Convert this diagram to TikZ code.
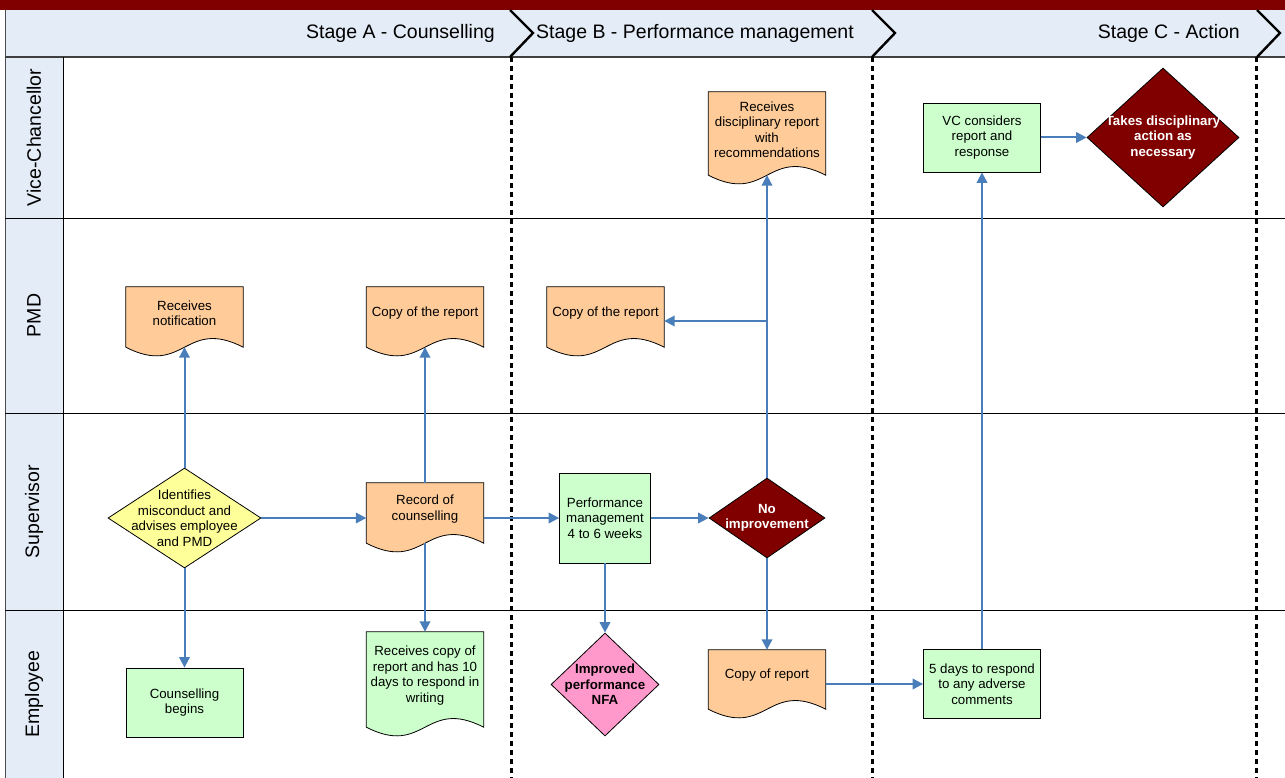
\documentclass[tikz,border=0pt]{standalone}
\usepackage{fontspec}
\setmainfont{Liberation Sans}
\usetikzlibrary{arrows.meta,shapes.geometric,backgrounds,calc}
\definecolor{maroon}{HTML}{800000}
\definecolor{band}{HTML}{E4ECF7}
\definecolor{peach}{HTML}{FFCC99}
\definecolor{mint}{HTML}{CCFFCC}
\definecolor{lemon}{HTML}{FFFF99}
\definecolor{rose}{HTML}{FF99CC}
\definecolor{flow}{HTML}{4A7EBB}
\newcommand\docshape[2]{%
 \coordinate (#1 foot) at ($(#1.south)+(0,8)$);
 \draw[line width=0.8pt,fill=#2] (#1.north west)--($(#1.south west)+(0,8)$) .. controls ($(#1 foot)+(0,30)$) and ($(#1 foot)+(0,-30)$) .. ($(#1.south east)+(0,8)$)--(#1.north east)--cycle;}

\begin{document}
\begin{tikzpicture}[x=1pt,y=-1pt,font=\fontsize{13.3}{15.5}\selectfont,doc/.style={minimum width=117pt,inner sep=1pt,align=center},box/.style={draw,line width=0.8pt,fill=mint,minimum width=117pt,minimum height=69pt,inner sep=1pt,align=center},dia/.style={diamond,draw,line width=0.8pt,inner sep=0pt},txt/.style={align=center},boldtxt/.style={align=center,font=\fontsize{13.3}{15.5}\selectfont\bfseries},arrow/.style={-{Triangle[length=10.5pt,width=10.5pt]},flow,line width=2pt},lane/.style={rotate=90,inner sep=0pt,font=\fontsize{19.5}{23}\selectfont},stage/.style={inner sep=0pt,font=\fontsize{19.5}{23}\selectfont},sep/.style={line width=3pt,dash pattern=on 5pt off 4pt},chev/.style={line width=2.4pt}]
 \useasboundingbox (0,0) rectangle (1285,778);
 \begin{scope}[on background layer]
  \fill[white] (0,0) rectangle (1285,778);
 \end{scope}
 \fill[maroon] (0,0) rectangle (1285,10);
 \fill[band] (5,10) rectangle (1285,57);
 \fill[band] (5,57) rectangle (63,778);
 \draw[gray!60!black] (5,10)--(5,778);
 \draw[line width=1.2pt,black!75] (5,57)--(1285,57);
 \draw (63,57)--(63,778);
 \draw (5,218)--(1285,218);
 \draw (5,413)--(1285,413);
 \draw (5,610)--(1285,610);
 \draw[sep] (511,57)--(511,778);
 \draw[sep] (872,57)--(872,778);
 \draw[sep] (1256,57)--(1256,778);
 \draw[chev] (510,10)--(533,33)--(510,57);
 \draw[chev] (872,10)--(895,33)--(872,57);
 \draw[chev] (1257,10)--(1280,33)--(1257,57);
 \node[stage,anchor=east] (stageA) at (495,33) {Stage A - Counselling};
 \node[stage,anchor=west] (stageB) at (536,33) {Stage B - Performance management};
 \node[stage,anchor=east] (stageC) at (1240,33) {Stage C - Action};
 \node[lane] (laneVC) at (34,137.5) {Vice-Chancellor};
 \node[lane] (lanePMD) at (34,315.5) {PMD};
 \node[lane] (laneSup) at (34,511.5) {Supervisor};
 \node[lane] (laneEmp) at (34,694) {Employee};
 \node[doc,minimum height=52pt] (notif) at (184.5,313) {Receives\\notification};
 \node[doc,minimum height=52pt] (copyA) at (425,313) {Copy of the report};
 \node[doc,minimum height=52pt] (copyB) at (605.5,313) {Copy of the report};
 \node[doc,minimum height=75pt] (discip) at (767,129.5) {Receives\\disciplinary report\\with\\recommendations};
 \node[doc,minimum height=52pt] (record) at (425,509) {Record of\\counselling};
 \node[doc,minimum height=87pt] (recv) at (425,675.5) {Receives copy of\\report and has 10\\days to respond in\\writing};
 \node[doc,minimum height=51pt] (copyR) at (767,675.5) {Copy of report};
 \node[box] (couns) at (184.5,702.5) {Counselling\\begins};
 \node[box,minimum width=91pt,minimum height=90pt] (perf) at (605,518) {Performance\\management\\4 to 6 weeks};
 \node[box] (days) at (982,684) {5 days to respond\\to any adverse\\comments};
 \node[box] (vcc) at (982,137.5) {VC considers\\report and\\response};
 \node[dia,fill=lemon,minimum width=153pt,minimum height=100pt,label={[txt]center:Identifies\\misconduct and\\advises employee\\and PMD}] (ident) at (184.5,518) {};
 \node[dia,fill=maroon,minimum width=116pt,minimum height=80pt,label={[boldtxt,text=white]center:No\\improvement}] (noimp) at (767,518) {};
 \node[dia,fill=rose,minimum width=108pt,minimum height=103pt,label={[boldtxt]center:Improved\\performance\\NFA}] (impr) at (605,684.5) {};
 \node[dia,fill=maroon,minimum width=152pt,minimum height=139pt,label={[boldtxt,text=white]center:Takes disciplinary\\action as\\necessary}] (takes) at (1163,137.5) {};
 \begin{scope}[on background layer]
  \docshape{notif}{peach}
  \docshape{copyA}{peach}
  \docshape{copyB}{peach}
  \docshape{discip}{peach}
  \docshape{record}{peach}
  \docshape{recv}{mint}
  \docshape{copyR}{peach}
 \end{scope}
 \draw[arrow] (ident)--(notif foot);
 \draw[arrow] (ident)--(couns);
 \draw[arrow] (ident)--(ident -| record.west);
 \draw[arrow] (record)--(copyA foot);
 \draw[arrow] (record foot)--(recv);
 \draw[arrow] (record.east |- perf)--(perf);
 \draw[arrow] (perf)--(noimp);
 \draw[arrow] (perf)--(impr);
 \draw[arrow] (noimp)--(discip foot);
 \draw[arrow] ($(noimp |- copyB.east)+(0,8)$)--($(copyB.east)+(0,8)$);
 \draw[arrow] (noimp)--(copyR);
 \draw[arrow] (copyR.east |- days)--(days);
 \draw[arrow] (days)--(vcc);
 \draw[arrow] (vcc)--(takes);
\end{tikzpicture}
\end{document}
